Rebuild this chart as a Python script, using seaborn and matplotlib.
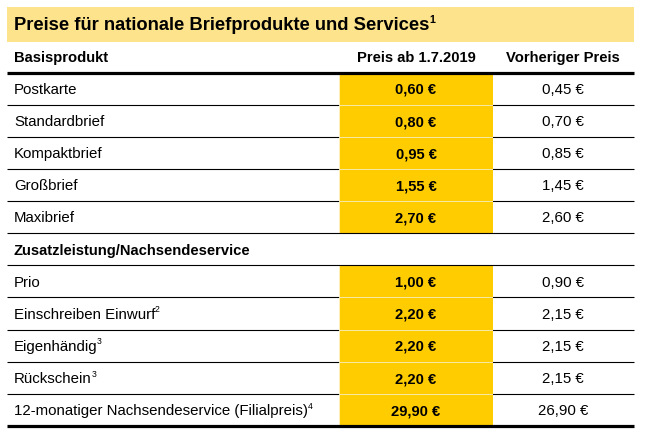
import matplotlib
matplotlib.use("Agg")
import matplotlib.pyplot as plt
from matplotlib.patches import Rectangle
import seaborn as sns
import pandas as pd

# ---------------- data ----------------
title = "Preise für nationale Briefprodukte und Services"
title_note = "1"
col_headers = ["Basisprodukt", "Preis ab 1.7.2019", "Vorheriger Preis"]

basis_products = ["Postkarte", "Standardbrief", "Kompaktbrief", "Großbrief", "Maxibrief"]
basis_notes = ["", "", "", "", ""]
basis_new = [0.60, 0.80, 0.95, 1.55, 2.70]
basis_old = [0.45, 0.70, 0.85, 1.45, 2.60]

section2 = "Zusatzleistung/Nachsendeservice"
extra_products = ["Prio", "Einschreiben Einwurf", "Eigenhändig", "Rückschein",
                  "12-monatiger Nachsendeservice (Filialpreis)"]
extra_notes = ["", "2", "3", "3", "4"]
extra_new = [1.00, 2.20, 2.20, 2.20, 29.90]
extra_old = [0.90, 2.15, 2.15, 2.15, 26.90]

# ---------------- table assembly ----------------
rows = []
for p, n, a, b in zip(basis_products, basis_notes, basis_new, basis_old):
    rows.append(dict(label=p, note=n, new=a, old=b, section=False))
rows.append(dict(label=section2, note="", new=None, old=None, section=True))
for p, n, a, b in zip(extra_products, extra_notes, extra_new, extra_old):
    rows.append(dict(label=p, note=n, new=a, old=b, section=False))
table = pd.DataFrame(rows)
table["row"] = [f"r{i}" for i in range(len(table))]

def eur(v):
    return f"{v:.2f}".replace(".", ",") + " €"

# ---------------- style ----------------
sns.set_theme(style="white")
plt.rcParams["font.family"] = ["Liberation Sans", "DejaVu Sans"]

W, H = 647, 434
fig = plt.figure(figsize=(W / 100, H / 100), dpi=100)
fig.patch.set_facecolor("white")

YELLOW = "#FFCC00"
BAND = "#FCE38C"

x_left, x_right = 7, 634
col1_l, col1_r = 339, 493
col1_c = (col1_l + col1_r) / 2
col2_c = 563
text_x = 14
grid_top, grid_bot = 72.5, 426.0
n = len(table)
rh = (grid_bot - grid_top) / n

def row_center(i):
    return grid_top + rh * (i + 0.5)

# background axes: title band + thin lines
ax_bg = fig.add_axes([0, 0, 1, 1])
ax_bg.set_xlim(0, W)
ax_bg.set_ylim(H, 0)
ax_bg.set_axis_off()
ax_bg.add_patch(Rectangle((x_left, 7), x_right - x_left, 35, facecolor=BAND, edgecolor="none"))
for k in range(1, n):
    if k in (5, 6):
        continue
    ax_bg.hlines(grid_top + rh * k, x_left, x_right, color="black", lw=0.8)

# yellow column via seaborn barplot
ax_y = fig.add_axes([col1_l / W, (H - grid_bot) / H, (col1_r - col1_l) / W, (grid_bot - grid_top) / H])
ydf = table[~table["section"]].assign(v=1.0)
sns.barplot(data=ydf, x="v", y="row", order=list(table["row"]), orient="h",
            color=YELLOW, saturation=1, width=1.0, edgecolor="#FFF4CC", linewidth=0.5, ax=ax_y)
ax_y.set_xlim(0, 1)
ax_y.set_ylim(n - 0.5, -0.5)
ax_y.set_axis_off()

# top axes: thick lines + text
ax = fig.add_axes([0, 0, 1, 1])
ax.set_xlim(0, W)
ax.set_ylim(H, 0)
ax.set_axis_off()
ax.patch.set_alpha(0)
ax.hlines([grid_top, grid_bot], x_left, x_right, color="black", lw=2.3)
for k in (5, 6):
    ax.hlines(grid_top + rh * k, x_left, x_right, color="black", lw=0.8)

fig.canvas.draw()
renderer = fig.canvas.get_renderer()

def put(x, y, s, size, weight="normal", ha="left", note=""):
    t = ax.text(x, y, s, fontsize=size, fontweight=weight, ha=ha, va="baseline", color="black")
    if note:
        bb = t.get_window_extent(renderer)
        ax.text(bb.x1 - 0.5, y - size * 0.6, note, fontsize=size * 0.58, fontweight=weight,
                ha="left", va="baseline", color="black")

put(text_x, 30.5, title, 13.2, "bold", note=title_note)
put(text_x, 62, col_headers[0], 10.6, "bold")
put(col1_c, 62, col_headers[1], 10.6, "bold", ha="center")
put(col2_c, 62, col_headers[2], 10.6, "bold", ha="center")

for i, r in table.iterrows():
    yb = row_center(i) + 5.3
    if r["section"]:
        put(text_x, yb, r["label"], 10.6, "bold")
        continue
    put(text_x, yb, r["label"], 10.8, note=r["note"])
    put(col1_c, yb, eur(r["new"]), 10.6, "bold", ha="center")
    put(col2_c, yb, eur(r["old"]), 10.8, ha="center")

fig.savefig("out.png", dpi=100, facecolor="white")
